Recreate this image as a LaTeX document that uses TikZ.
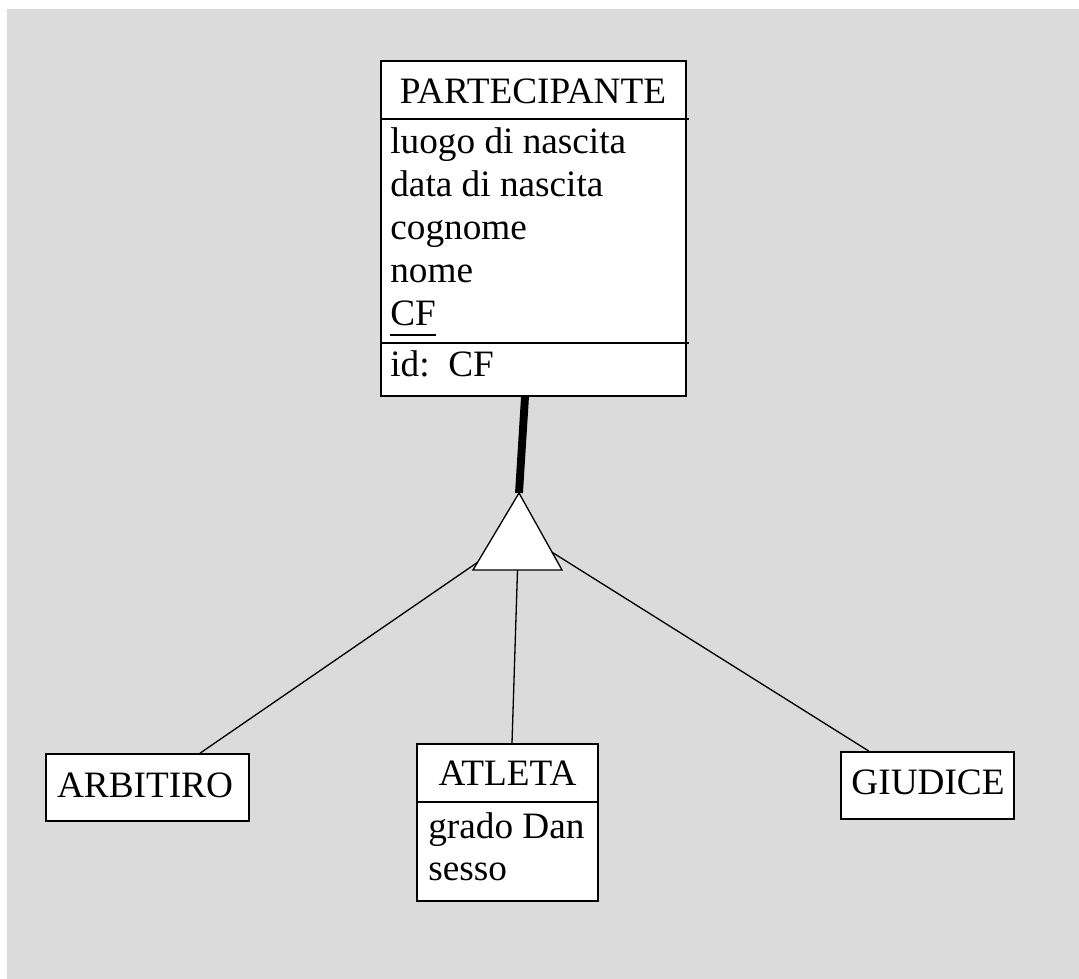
\documentclass[tikz,border=0pt]{standalone}
\usepackage{fontspec}
\setmainfont{Liberation Serif}
\usetikzlibrary{calc}
\definecolor{bggray}{HTML}{DBDBDB}
\tikzset{
  entity/.style={draw, fill=white, line width=0.9pt, inner sep=0pt},
  txt/.style={inner sep=0pt, font=\fontsize{21.2}{25}\selectfont},
  link/.style={line width=0.75pt},
}
\begin{document}
\begin{tikzpicture}[x=0.02cm, y=-0.02cm]
        \fill[white] (0,0) rectangle (1079,979);
        \fill[bggray] (7,9) rectangle (1079,979);
        \useasboundingbox (0,0) rectangle (1079,979);

        \node[entity, minimum width=6.10cm, minimum height=6.70cm] (part) at (533.5,228.5) {};
        \draw[line width=0.9pt] (381,119) -- (689,119);
        \draw[line width=0.9pt] (381,343) -- (689,343);
        \node[txt, anchor=base] (partname) at (533,104) {PARTECIPANTE};
        \node[txt, anchor=base west] (luogo) at (390,154) {luogo di nascita};
        \node[txt, anchor=base west] (data) at (390,197) {data di nascita};
        \node[txt, anchor=base west] (cognome) at (390,240) {cognome};
        \node[txt, anchor=base west] (nome) at (390,283) {nome};
        \node[txt, anchor=base west] (cf) at (390,326) {CF};
        \draw[line width=0.9pt] ([yshift=-5pt]cf.base west) -- ([yshift=-5pt]cf.base east);
        \node[txt, anchor=base west] (id) at (390,377) {id:\ \ CF};

        \node[entity, minimum width=4.06cm, minimum height=1.34cm] (arb) at (147.5,787.5) {};
        \node[txt, anchor=base] (arbname) at (145,797) {ARBITIRO};

        \node[entity, minimum width=3.62cm, minimum height=3.14cm] (atl) at (507.5,822.5) {};
        \draw[line width=0.9pt] (417,802) -- (598,802);
        \node[txt, anchor=base] (atlname) at (507.5,786) {ATLETA};
        \node[txt, anchor=base west] (grado) at (428,838) {grado Dan};
        \node[txt, anchor=base west] (sesso) at (428,880) {sesso};

        \node[entity, minimum width=3.46cm, minimum height=1.34cm] (giu) at (927.5,785.5) {};
        \node[txt, anchor=base] (giuname) at (928,794) {GIUDICE};

        \coordinate (apex) at (519,493);
        \coordinate (bl) at (473,570);
        \coordinate (br) at (562,570);
        \draw[link, fill=white] (apex) -- (bl) -- (br) -- cycle;

        \draw[line width=4.5pt] ([xshift=-0.17cm]part.south) -- (apex);
        \draw[link] ($(apex)!0.9!(bl)$) -- ([xshift=1.05cm]arb.north);
        \draw[link] ($(bl)!0.5!(br)$) -- ([xshift=0.09cm]atl.north);
        \draw[link] ($(apex)!0.77!(br)$) -- ([xshift=-1.17cm]giu.north);
    \end{tikzpicture}
\end{document}
